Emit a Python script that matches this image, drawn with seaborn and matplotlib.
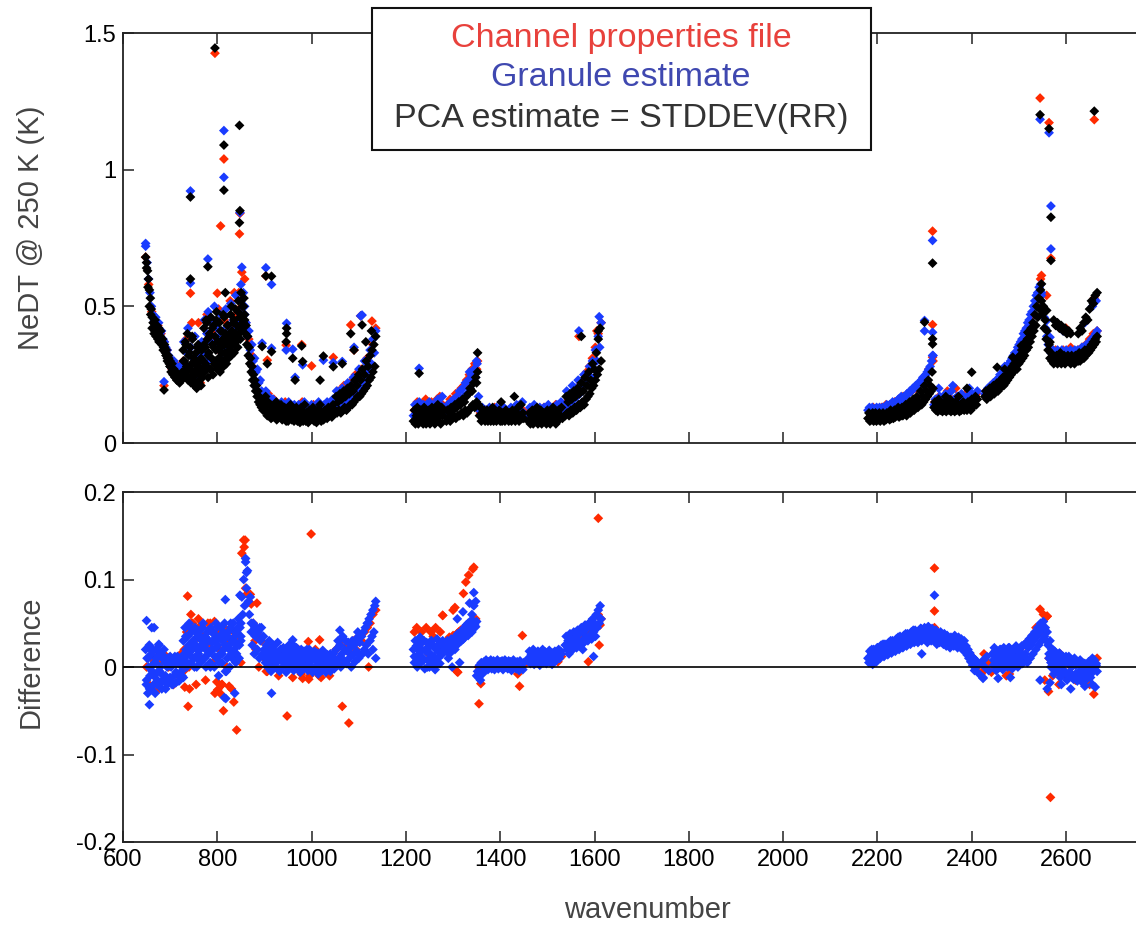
import numpy as np
import pandas as pd
import matplotlib
matplotlib.use("Agg")
import matplotlib.pyplot as plt
import seaborn as sns
from matplotlib.patches import Rectangle

# ------------------------------------------------------------------
# NeDT @ 250 K per channel, grouped in runs of adjacent channels:
# (first wavenumber, last wavenumber, values across the run)
# ------------------------------------------------------------------

# PCA estimate = STDDEV(RR)
pca_lw_a = [0.68, 0.66, 0.63, 0.60, 0.56, 0.53, 0.49, 0.46, 0.44, 0.40, 0.45, 0.39, 0.43, 0.38,
            0.42, 0.39, 0.41, 0.37, 0.38, 0.35, 0.36, 0.33, 0.34, 0.31, 0.32, 0.29, 0.30]
pca_lw_a2 = [0.64, 0.57, 0.50, 0.47, 0.42, 0.44, 0.41, 0.43, 0.40, 0.37, 0.39, 0.36, 0.34,
             0.35, 0.32, 0.30, 0.31, 0.28]
pca_lw_b = [0.28, 0.26, 0.29, 0.25, 0.27, 0.24, 0.26, 0.23, 0.25, 0.24, 0.22, 0.25, 0.23, 0.24]
pca_lw_c = [0.26, 0.34, 0.24, 0.30, 0.37, 0.25, 0.28, 0.40, 0.23, 0.32, 0.27, 0.35, 0.22, 0.29,
            0.38, 0.24, 0.31, 0.21, 0.26, 0.33, 0.20, 0.28, 0.36, 0.22, 0.25, 0.30, 0.21, 0.34,
            0.24, 0.27]
pca_lw_c2 = [0.30, 0.26, 0.36, 0.28, 0.24, 0.33, 0.27, 0.39, 0.25, 0.30, 0.22, 0.35, 0.28,
             0.23, 0.31, 0.26]
pca_lw_d = [0.30, 0.42, 0.26, 0.35, 0.45, 0.28, 0.38, 0.24, 0.33, 0.40, 0.27, 0.46, 0.31, 0.36,
            0.25, 0.43, 0.29, 0.39, 0.34, 0.48, 0.27, 0.37, 0.31, 0.44, 0.26, 0.35, 0.41, 0.30,
            0.38, 0.28, 0.46, 0.33, 0.40, 0.29, 0.36, 0.43, 0.31, 0.38, 0.34, 0.47, 0.32, 0.41,
            0.36, 0.44, 0.33, 0.39, 0.49, 0.37, 0.43, 0.35, 0.52, 0.40, 0.46, 0.38, 0.55, 0.42,
            0.50, 0.44, 0.53, 0.47]
pca_lw_d2 = [0.36, 0.29, 0.44, 0.32, 0.39, 0.27, 0.42, 0.35, 0.30, 0.45, 0.37, 0.28, 0.41,
             0.33, 0.47, 0.36, 0.31, 0.43, 0.39, 0.34, 0.50, 0.37, 0.45, 0.40, 0.35, 0.48,
             0.42, 0.52, 0.45, 0.50]
pca_lw_e = [0.45, 0.40, 0.43, 0.36, 0.39, 0.32, 0.35, 0.29, 0.31, 0.26, 0.28, 0.23, 0.25, 0.21,
            0.23, 0.19, 0.21, 0.17, 0.19, 0.15, 0.17, 0.14, 0.16, 0.13, 0.15, 0.12, 0.14, 0.12]
pca_lw_f = [0.13, 0.17, 0.11, 0.15, 0.10, 0.14, 0.12, 0.095, 0.13, 0.10,
            0.15, 0.09, 0.12, 0.10, 0.14, 0.085, 0.11, 0.13, 0.09, 0.12,
            0.08, 0.11, 0.14, 0.09, 0.12, 0.08, 0.10, 0.13, 0.085, 0.11,
            0.075, 0.12, 0.09, 0.10, 0.14, 0.08, 0.11, 0.075, 0.12, 0.09,
            0.10, 0.13, 0.08, 0.11, 0.075, 0.12, 0.09, 0.14, 0.08, 0.11,
            0.085, 0.12, 0.10, 0.09, 0.13, 0.10, 0.12, 0.095, 0.14, 0.11]
pca_lw_f2 = [0.12, 0.10, 0.14, 0.09, 0.11, 0.13, 0.085, 0.10, 0.12, 0.09, 0.11, 0.08, 0.10,
             0.12, 0.085, 0.09, 0.11, 0.08, 0.10, 0.13, 0.08, 0.09, 0.11, 0.08, 0.10, 0.12,
             0.085, 0.10, 0.09, 0.12, 0.09, 0.11, 0.10, 0.12, 0.10, 0.13, 0.11]
pca_lw_g = [0.12, 0.17, 0.11, 0.15, 0.12, 0.18, 0.11, 0.16, 0.12, 0.19,
            0.13, 0.17, 0.12, 0.20, 0.13, 0.18, 0.14, 0.21, 0.14, 0.19,
            0.15, 0.23, 0.16, 0.21, 0.17, 0.25, 0.17, 0.23, 0.18, 0.27,
            0.19, 0.25, 0.20, 0.30, 0.21, 0.28, 0.23, 0.32, 0.24, 0.34,
            0.26, 0.36, 0.28, 0.39]
pca_mw_a = [0.08, 0.12, 0.07, 0.10, 0.13, 0.07, 0.09, 0.12, 0.08, 0.11, 0.07, 0.13, 0.09, 0.07,
            0.11, 0.08, 0.12, 0.07, 0.10, 0.13, 0.08, 0.11, 0.07, 0.12, 0.09, 0.14, 0.08, 0.11,
            0.07, 0.13, 0.10, 0.12]
pca_mw_b = [0.08, 0.12, 0.09, 0.11, 0.08, 0.13, 0.09, 0.12, 0.10, 0.14,
            0.09, 0.13, 0.10, 0.15, 0.10, 0.14, 0.11, 0.16, 0.10, 0.15,
            0.12, 0.17, 0.11, 0.18, 0.12, 0.20, 0.13, 0.19, 0.14, 0.22,
            0.13, 0.24, 0.15, 0.26, 0.14]
pca_mw_c = [0.10, 0.13, 0.08, 0.11, 0.09, 0.12, 0.08, 0.10, 0.12, 0.08,
            0.09, 0.11, 0.08, 0.10, 0.13, 0.08, 0.09, 0.11, 0.08, 0.10,
            0.09, 0.12, 0.08, 0.10, 0.08, 0.11, 0.09, 0.08, 0.12, 0.09,
            0.10, 0.08, 0.11, 0.09, 0.08, 0.12, 0.09, 0.10, 0.08, 0.11,
            0.09, 0.13, 0.08, 0.10, 0.14, 0.09, 0.11, 0.09]
pca_mw_d = [0.08, 0.11, 0.07, 0.10, 0.12, 0.07, 0.09, 0.11, 0.08, 0.13,
            0.07, 0.10, 0.08, 0.12, 0.07, 0.09, 0.11, 0.08, 0.10, 0.07,
            0.12, 0.08, 0.10, 0.07, 0.11, 0.09, 0.13, 0.08, 0.10, 0.07,
            0.11, 0.08, 0.12, 0.09, 0.10, 0.13, 0.09]
pca_mw_e = [0.10, 0.17, 0.11, 0.15, 0.10, 0.18, 0.12, 0.16, 0.11, 0.19,
            0.13, 0.17, 0.12, 0.20, 0.14, 0.18, 0.13, 0.22, 0.15, 0.19,
            0.14, 0.24, 0.16, 0.21, 0.17, 0.26, 0.18, 0.23, 0.20, 0.29,
            0.21, 0.27, 0.23, 0.33, 0.25, 0.38, 0.27, 0.42, 0.30]
pca_sw_a = [0.09, 0.11, 0.08, 0.10, 0.085, 0.11, 0.08, 0.095, 0.11, 0.08,
            0.10, 0.085, 0.11, 0.08, 0.10, 0.09, 0.11, 0.08, 0.10, 0.085,
            0.11, 0.09, 0.10, 0.085, 0.12, 0.09, 0.10, 0.09, 0.12, 0.095,
            0.11, 0.10, 0.13, 0.095, 0.12, 0.10, 0.13, 0.10, 0.12, 0.11,
            0.14, 0.10, 0.13, 0.11, 0.15, 0.11, 0.13, 0.12, 0.16, 0.12,
            0.14, 0.13, 0.17, 0.13, 0.15, 0.14, 0.19, 0.14, 0.17, 0.15,
            0.21, 0.16, 0.19, 0.17, 0.23, 0.18, 0.21, 0.19, 0.26, 0.20]
pca_sw_b = [0.13, 0.15, 0.12, 0.14, 0.115, 0.13, 0.15, 0.12, 0.14, 0.115,
            0.13, 0.12, 0.15, 0.115, 0.13, 0.14, 0.12, 0.16, 0.115, 0.13,
            0.12, 0.14, 0.115, 0.15, 0.12, 0.13, 0.17, 0.115, 0.14, 0.12,
            0.13, 0.15, 0.12, 0.14, 0.13, 0.12, 0.15, 0.13, 0.14, 0.12,
            0.16, 0.13, 0.15, 0.14, 0.17, 0.14, 0.16]
pca_sw_c = [0.17, 0.19, 0.16, 0.18, 0.17, 0.20, 0.17, 0.19, 0.18, 0.21,
            0.18, 0.20, 0.19, 0.22, 0.19, 0.21, 0.20, 0.23, 0.21, 0.24,
            0.21, 0.23, 0.22, 0.25, 0.23, 0.26, 0.24, 0.27, 0.25, 0.28,
            0.26, 0.29, 0.27, 0.30, 0.27, 0.31, 0.29, 0.32, 0.30, 0.34,
            0.31, 0.35, 0.32, 0.37, 0.34, 0.38, 0.35, 0.40, 0.37, 0.42,
            0.39, 0.44, 0.41, 0.47, 0.43, 0.50, 0.46, 0.53, 0.49, 0.56]
pca_sw_d = [0.52, 0.47, 0.50, 0.42, 0.45, 0.38, 0.41, 0.34, 0.36, 0.31, 0.33]
pca_sw_e = [0.30, 0.32, 0.29, 0.31, 0.30, 0.32, 0.29, 0.31, 0.30, 0.33,
            0.29, 0.31, 0.30, 0.32, 0.29, 0.31, 0.30, 0.32, 0.30, 0.31,
            0.29, 0.32, 0.30, 0.31, 0.29, 0.32, 0.30, 0.31, 0.30, 0.33,
            0.30, 0.32, 0.31, 0.33, 0.31, 0.34, 0.32, 0.33, 0.34]
pca_sw_f = [0.33, 0.35, 0.34, 0.36, 0.35, 0.37, 0.36, 0.38, 0.37, 0.39]
pca_sw_g = [0.45, 0.43, 0.44, 0.42, 0.43, 0.41, 0.42, 0.40, 0.41, 0.40]
pca_sw_h = [0.40, 0.42, 0.41, 0.44, 0.46, 0.45, 0.49, 0.52, 0.51, 0.54, 0.55]
pca_single = [(687, 0.194), (743, 0.90), (743, 0.60), (780, 0.645), (795, 1.445), (814, 1.09),
              (814, 0.925), (817, 0.55), (847, 1.162), (848, 0.85), (847, 0.806), (895, 0.353),
              (903, 0.611), (906, 0.29), (915, 0.61), (915, 0.334), (946, 0.37), (947, 0.42),
              (947, 0.40), (960, 0.31), (965, 0.23), (979, 0.355), (981, 0.298), (1018, 0.23),
              (1025, 0.318), (1046, 0.279), (1065, 0.29), (1083, 0.40), (1090, 0.34),
              (1107, 0.432), (1115, 0.37), (1127, 0.41), (1228, 0.255), (1340, 0.19),
              (1350, 0.22), (1352, 0.33), (1402, 0.15), (1430, 0.17), (1572, 0.39),
              (1608, 0.41), (2300, 0.442), (2317, 0.658), (2317, 0.381), (2317, 0.362),
              (2330, 0.16), (2345, 0.17), (2390, 0.20), (2400, 0.259), (2454, 0.277),
              (2470, 0.27), (2487, 0.314), (2505, 0.356), (2519, 0.405), (2545, 1.201),
              (2548, 0.582), (2559, 0.485), (2564, 1.15), (2566, 0.369), (2568, 0.826),
              (2568, 0.668), (2660, 1.214)]
pca_runs = [(648, 700, pca_lw_a), (650, 700, pca_lw_a2), (700, 726, pca_lw_b),
            (726, 770, pca_lw_c), (728, 768, pca_lw_c2), (770, 858, pca_lw_d),
            (772, 856, pca_lw_d2), (858, 900, pca_lw_e), (900, 1048, pca_lw_f),
            (902, 1046, pca_lw_f2), (1050, 1136, pca_lw_g), (1216, 1280, pca_mw_a),
            (1286, 1354, pca_mw_b), (1356, 1450, pca_mw_c), (1460, 1532, pca_mw_d),
            (1538, 1614, pca_mw_e), (2180, 2318, pca_sw_a), (2320, 2412, pca_sw_b),
            (2428, 2546, pca_sw_c), (2548, 2568, pca_sw_d), (2570, 2646, pca_sw_e),
            (2648, 2666, pca_sw_f), (2574, 2610, pca_sw_g), (2626, 2666, pca_sw_h)]

# Granule estimate
gran_lw_a = [0.72, 0.66, 0.60, 0.55, 0.50, 0.47, 0.45, 0.46, 0.42, 0.44, 0.40, 0.41, 0.38,
             0.37, 0.35, 0.34, 0.32, 0.31]
gran_lw_b = [0.29, 0.27, 0.30, 0.26, 0.28, 0.25, 0.27, 0.26, 0.25]
gran_lw_c = [0.29, 0.37, 0.26, 0.33, 0.42, 0.28, 0.35, 0.24, 0.31, 0.39, 0.26, 0.33, 0.23,
             0.30, 0.37, 0.27]
gran_lw_d = [0.33, 0.45, 0.29, 0.40, 0.48, 0.31, 0.37, 0.44, 0.30, 0.50, 0.35, 0.42, 0.29,
             0.39, 0.47, 0.33, 0.41, 0.36, 0.49, 0.34, 0.43, 0.38, 0.51, 0.36, 0.45, 0.40,
             0.54, 0.42, 0.48, 0.44, 0.58, 0.46, 0.55, 0.50]
gran_lw_e = [0.47, 0.44, 0.39, 0.41, 0.34, 0.36, 0.30, 0.31, 0.26, 0.27, 0.22, 0.23, 0.19,
             0.18, 0.16]
gran_lw_f = [0.16, 0.19, 0.14, 0.17, 0.15, 0.13, 0.16, 0.12, 0.15, 0.13, 0.14, 0.11, 0.15,
             0.12, 0.14, 0.11, 0.13, 0.15, 0.11, 0.13, 0.10, 0.14, 0.12, 0.11, 0.14, 0.10,
             0.13, 0.11, 0.15, 0.10, 0.13, 0.12, 0.10, 0.14, 0.11, 0.13, 0.10, 0.12, 0.15,
             0.11, 0.13, 0.12, 0.14, 0.11, 0.15, 0.12, 0.14, 0.13, 0.16, 0.13]
gran_lw_g = [0.14, 0.19, 0.13, 0.18, 0.14, 0.20, 0.15, 0.19, 0.16, 0.22, 0.16, 0.21, 0.18,
             0.24, 0.19, 0.23, 0.20, 0.27, 0.21, 0.26, 0.23, 0.30, 0.25, 0.29, 0.27, 0.34,
             0.29, 0.38, 0.33, 0.41]
gran_mw_a = [0.10, 0.14, 0.09, 0.13, 0.15, 0.10, 0.12, 0.14, 0.09, 0.13, 0.11, 0.15, 0.10,
             0.12, 0.14, 0.10, 0.13, 0.16, 0.11, 0.14, 0.17, 0.12]
gran_mw_b = [0.11, 0.14, 0.12, 0.15, 0.13, 0.16, 0.14, 0.17, 0.15, 0.19, 0.16, 0.20, 0.17,
             0.22, 0.18, 0.23, 0.20, 0.25, 0.22, 0.27, 0.24, 0.29, 0.17]
gran_mw_c = [0.12, 0.10, 0.13, 0.10, 0.12, 0.11, 0.10, 0.13, 0.10, 0.12, 0.11, 0.10, 0.13,
             0.10, 0.12, 0.10, 0.11, 0.13, 0.10, 0.12, 0.10, 0.11, 0.13, 0.10, 0.12, 0.11,
             0.14, 0.10, 0.12, 0.11, 0.15, 0.11]
gran_mw_d = [0.10, 0.13, 0.09, 0.12, 0.14, 0.10, 0.12, 0.09, 0.13, 0.11, 0.10, 0.13, 0.09,
             0.12, 0.14, 0.10, 0.12, 0.09, 0.13, 0.11, 0.14, 0.10, 0.12, 0.15, 0.11]
gran_mw_e = [0.13, 0.19, 0.14, 0.18, 0.15, 0.21, 0.16, 0.20, 0.17, 0.23, 0.18, 0.22, 0.19,
             0.25, 0.21, 0.24, 0.22, 0.28, 0.24, 0.30, 0.27, 0.34, 0.30, 0.39, 0.35, 0.44]
gran_sw_a = [0.12, 0.13, 0.12, 0.13, 0.12, 0.125, 0.13, 0.12, 0.13, 0.12, 0.13, 0.125, 0.13,
             0.14, 0.13, 0.14, 0.135, 0.15, 0.14, 0.15, 0.15, 0.16, 0.15, 0.17, 0.16, 0.17,
             0.17, 0.18, 0.18, 0.19, 0.19, 0.20, 0.20, 0.21, 0.21, 0.22, 0.22, 0.23, 0.24,
             0.23, 0.25, 0.26, 0.27, 0.28, 0.30, 0.32]
gran_sw_b = [0.14, 0.16, 0.13, 0.15, 0.17, 0.14, 0.16, 0.15, 0.18, 0.14, 0.16, 0.15, 0.19,
             0.14, 0.16, 0.15, 0.17, 0.14, 0.16, 0.18, 0.15, 0.16, 0.14, 0.17, 0.15, 0.16,
             0.18, 0.15, 0.17, 0.16, 0.19]
gran_sw_c = [0.18, 0.19, 0.20, 0.19, 0.21, 0.20, 0.22, 0.21, 0.23, 0.23, 0.24, 0.25, 0.25,
             0.26, 0.27, 0.28, 0.28, 0.29, 0.30, 0.31, 0.32, 0.33, 0.33, 0.35, 0.36, 0.37,
             0.38, 0.40, 0.41, 0.42, 0.44, 0.45, 0.47, 0.48, 0.50, 0.52, 0.54, 0.55, 0.57, 0.58]
gran_sw_d = [0.54, 0.50, 0.46, 0.42, 0.39, 0.36, 0.34, 0.33]
gran_sw_e = [0.33, 0.34, 0.32, 0.33, 0.34, 0.32, 0.33, 0.34, 0.33, 0.32, 0.34, 0.33, 0.32,
             0.34, 0.33, 0.32, 0.34, 0.33, 0.34, 0.32, 0.33, 0.35, 0.34, 0.35, 0.36, 0.35]
gran_sw_f = [0.36, 0.37, 0.38, 0.37, 0.39, 0.40, 0.41]
gran_single = [(648, 0.73), (687, 0.224), (743, 0.922), (743, 0.585), (780, 0.673),
               (814, 1.143), (814, 0.972), (848, 0.843), (852, 0.643), (895, 0.365),
               (903, 0.641), (915, 0.58), (915, 0.347), (946, 0.34), (947, 0.438),
               (960, 0.343), (965, 0.24), (981, 0.286), (1025, 0.303), (1046, 0.294),
               (1065, 0.298), (1090, 0.35), (1104, 0.465), (1107, 0.468), (1228, 0.273),
               (1335, 0.26), (1350, 0.30), (1567, 0.41), (1610, 0.462), (2300, 0.448),
               (2300, 0.41), (2317, 0.741), (2317, 0.405), (2317, 0.32), (2330, 0.20),
               (2360, 0.21), (2395, 0.20), (2460, 0.25), (2470, 0.28), (2500, 0.33),
               (2545, 1.184), (2548, 0.55), (2559, 0.448), (2564, 1.135), (2566, 0.387),
               (2568, 0.867), (2568, 0.71), (2582, 0.43), (2594, 0.41), (2640, 0.44),
               (2656, 0.50), (2664, 0.52)]
gran_runs = [(648, 700, gran_lw_a), (702, 726, gran_lw_b), (726, 770, gran_lw_c),
             (770, 858, gran_lw_d), (858, 900, gran_lw_e), (900, 1048, gran_lw_f),
             (1050, 1136, gran_lw_g), (1216, 1280, gran_mw_a), (1286, 1354, gran_mw_b),
             (1356, 1450, gran_mw_c), (1460, 1532, gran_mw_d), (1538, 1614, gran_mw_e),
             (2180, 2318, gran_sw_a), (2320, 2412, gran_sw_b), (2428, 2546, gran_sw_c),
             (2548, 2568, gran_sw_d), (2570, 2646, gran_sw_e), (2648, 2666, gran_sw_f)]

# Channel properties file
chan_lw_a = [0.68, 0.58, 0.48, 0.45, 0.43, 0.40, 0.37, 0.34, 0.31]
chan_lw_b = [0.27, 0.29, 0.25, 0.26]
chan_lw_c = [0.30, 0.38, 0.27, 0.44, 0.25, 0.33, 0.22, 0.36]
chan_lw_d = [0.35, 0.47, 0.31, 0.41, 0.38, 0.49, 0.33, 0.45, 0.37, 0.52, 0.42, 0.47, 0.55,
             0.50, 0.60]
chan_lw_e = [0.44, 0.38, 0.32, 0.27, 0.22, 0.18, 0.16]
chan_lw_f = [0.15, 0.18, 0.13, 0.16, 0.12, 0.14, 0.11, 0.15, 0.12, 0.14, 0.10, 0.13, 0.12,
             0.15, 0.11, 0.13, 0.10, 0.14, 0.12, 0.13, 0.11, 0.14, 0.12, 0.15, 0.13]
chan_lw_g = [0.15, 0.19, 0.16, 0.21, 0.17, 0.22, 0.19, 0.25, 0.21, 0.27, 0.24, 0.31, 0.28,
             0.36, 0.42]
chan_mw_a = [0.12, 0.15, 0.11, 0.14, 0.16, 0.12, 0.15, 0.13, 0.16, 0.17, 0.14]
chan_mw_b = [0.14, 0.16, 0.15, 0.18, 0.17, 0.20, 0.21, 0.23, 0.25, 0.27, 0.29, 0.30]
chan_mw_c = [0.11, 0.10, 0.12, 0.10, 0.11, 0.13, 0.10, 0.12, 0.11, 0.10, 0.12, 0.11, 0.13,
             0.10, 0.14, 0.12]
chan_mw_d = [0.11, 0.13, 0.10, 0.12, 0.11, 0.13, 0.10, 0.12, 0.11, 0.14, 0.12, 0.13]
chan_mw_e = [0.15, 0.17, 0.16, 0.19, 0.20, 0.22, 0.23, 0.26, 0.28, 0.31, 0.35, 0.40, 0.44]
chan_sw_a = [0.12, 0.13, 0.12, 0.13, 0.14, 0.13, 0.15, 0.16, 0.17, 0.18, 0.19, 0.20, 0.22,
             0.24, 0.27, 0.30]
chan_sw_b = [0.15, 0.17, 0.14, 0.19, 0.16, 0.20, 0.15, 0.17, 0.19, 0.16, 0.18]
chan_sw_c = [0.19, 0.20, 0.22, 0.23, 0.25, 0.27, 0.29, 0.31, 0.33, 0.36, 0.39, 0.43, 0.47,
             0.52, 0.60]
chan_sw_d = [0.33, 0.34, 0.32, 0.34, 0.33, 0.35, 0.33, 0.34, 0.35, 0.36, 0.38, 0.40, 0.41]
chan_single = [(687, 0.21), (743, 0.548), (760, 0.44), (795, 1.426), (800, 0.548),
               (807, 0.794), (814, 1.039), (836, 0.55), (847, 0.765), (848, 0.84),
               (852, 0.625), (903, 0.611), (906, 0.303), (946, 0.358), (979, 0.36),
               (1000, 0.282), (1046, 0.313), (1083, 0.432), (1090, 0.34), (1104, 0.465),
               (1128, 0.446), (1350, 0.27), (1567, 0.39), (1605, 0.41), (2317, 0.775),
               (2317, 0.433), (2317, 0.314), (2440, 0.19), (2500, 0.30), (2545, 1.262),
               (2548, 0.613), (2559, 0.54), (2564, 1.172), (2568, 0.676), (2600, 0.42),
               (2660, 1.183), (2660, 0.53)]
chan_runs = [(648, 700, chan_lw_a), (704, 726, chan_lw_b), (728, 770, chan_lw_c),
             (772, 858, chan_lw_d), (860, 900, chan_lw_e), (902, 1046, chan_lw_f),
             (1050, 1136, chan_lw_g), (1218, 1278, chan_mw_a), (1288, 1352, chan_mw_b),
             (1358, 1448, chan_mw_c), (1462, 1530, chan_mw_d), (1540, 1614, chan_mw_e),
             (2182, 2318, chan_sw_a), (2322, 2410, chan_sw_b), (2430, 2546, chan_sw_c),
             (2570, 2666, chan_sw_d)]

# ------------------------------------------------------------------
# Difference from the PCA estimate
# ------------------------------------------------------------------
dgran_lw_a = [0.02, -0.02, 0.01, -0.03, 0.00, 0.025, -0.01, -0.025, 0.015, -0.005, 0.02,
              -0.02, 0.005, -0.03, 0.01, 0.02, -0.015, -0.005, 0.025, -0.02, 0.00, 0.015,
              -0.025, 0.01, -0.01, 0.02, -0.015, 0.005]
dgran_lw_a2 = [-0.015, 0.01, -0.025, 0.0, 0.018, -0.01, 0.005, -0.02, 0.012, -0.005, 0.015,
               -0.015, 0.008, -0.025, 0.0, 0.01, -0.012, 0.004, -0.02, 0.008, -0.006, 0.012,
               -0.016, 0.002, -0.01, 0.006]
dgran_lw_b = [-0.01, 0.01, -0.02, 0.005, -0.015, 0.012, 0.0, -0.02, 0.008, -0.01, 0.012,
              -0.018, 0.004, -0.008, 0.01, -0.015, 0.006, -0.005, 0.012, -0.012]
dgran_lw_c = [0.03, 0.01, 0.045, 0.02, 0.0, 0.035, 0.015, 0.05, 0.025, 0.005, 0.04, 0.02,
              0.03, 0.01, 0.045, 0.025, 0.0, 0.035, 0.015, 0.04, 0.02, 0.005, 0.03, 0.045,
              0.01, 0.025, 0.035, 0.0, 0.02, 0.04, 0.015, 0.03, 0.005, 0.045, 0.02, 0.03]
dgran_lw_c2 = [0.015, 0.035, 0.005, 0.025, 0.045, 0.012, 0.03, 0.0, 0.04, 0.02, 0.008, 0.035,
               0.025, 0.05, 0.01, 0.03, 0.018, 0.042, 0.0, 0.028, 0.038, 0.012, 0.022, 0.046,
               0.005, 0.032, 0.015, 0.04, 0.025, -0.005, 0.035, 0.02, 0.05, 0.01, 0.03, 0.04,
               0.015, 0.045, 0.025, 0.035]
dgran_lw_d = [0.02, 0.04, 0.0, 0.03, 0.05, 0.01, 0.025, -0.01, 0.035, 0.015, 0.045, 0.005,
              0.03, 0.02, 0.05, -0.005, 0.035, 0.01, 0.04, 0.025, 0.0, 0.045, 0.015, 0.03,
              0.05, 0.02, 0.035, 0.005, 0.04, 0.025, 0.055, 0.01, 0.045, 0.03]
dgran_lw_e = [0.05, 0.08, 0.06, 0.10, 0.07, 0.12, 0.09, 0.11, 0.075, 0.06, 0.08, 0.05]
dgran_lw_f = [0.04, 0.025, 0.05, 0.015, 0.035, 0.045, 0.02, 0.04, 0.01, 0.03, 0.045, 0.015,
              0.035, 0.02]
dgran_lw_g = [0.02, 0.005, 0.025, 0.0, 0.015, 0.03, 0.008, -0.005, 0.02, 0.01,
              0.025, 0.0, 0.015, 0.005, 0.028, 0.01, -0.005, 0.02, 0.012, 0.0,
              0.022, 0.008, 0.015, -0.006, 0.018, 0.005, 0.025, 0.01, 0.0, 0.02,
              0.012, -0.004, 0.016, 0.006, 0.022, 0.0, 0.014, 0.008, -0.006, 0.02,
              0.01, 0.003, 0.018, 0.0, 0.012, 0.02, -0.004, 0.008, 0.016, 0.002,
              0.014, -0.006, 0.01, 0.018, 0.0, 0.012, 0.006, -0.008, 0.015, 0.004,
              0.01, -0.004, 0.016, 0.002, 0.012, -0.006, 0.008, 0.014, 0.0, 0.01,
              -0.005, 0.012, 0.004, 0.015, -0.002, 0.008]
dgran_lw_g2 = [0.01, 0.018, 0.002, 0.012, 0.022, 0.006, 0.015, -0.003, 0.01, 0.02, 0.004,
               0.013, 0.0, 0.017, 0.008, 0.024, 0.003, 0.011, 0.018, -0.004, 0.009, 0.015,
               0.002, 0.02, 0.007, 0.012, -0.002, 0.016, 0.005, 0.01, 0.019, 0.0, 0.012,
               0.006, 0.015, 0.002, 0.01]
dgran_lw_h = [0.02, 0.005, 0.03, 0.01, 0.025, 0.0, 0.015, 0.035, 0.008, 0.02, 0.03, 0.004,
              0.018, 0.028, 0.01, 0.022, 0.0, 0.03, 0.014, 0.025, 0.006, 0.032, 0.018, 0.04,
              0.01, 0.028, 0.035]
dgran_lw_i = [0.035, 0.015, 0.04, 0.02, 0.045, 0.025, 0.05, 0.015, 0.055, 0.03, 0.06, 0.035,
              0.065, 0.04, 0.07, 0.075]
dgran_mw_a = [0.02, 0.005, 0.03, 0.01, 0.0, 0.025, 0.015, 0.034, 0.005, 0.02, 0.01, 0.03,
              -0.002, 0.018, 0.028, 0.008, 0.022, 0.0, 0.015, 0.03, 0.006, 0.025, 0.012,
              -0.003, 0.02, 0.032, 0.01, 0.018, 0.004, 0.026, 0.014, 0.03, 0.02]
dgran_mw_a2 = [0.012, 0.024, 0.004, 0.018, 0.028, 0.008, 0.02, 0.0, 0.015, 0.03, 0.01, 0.022,
               0.004, 0.026, 0.016, 0.024]
dgran_mw_b = [0.02, 0.03, 0.01, 0.025, 0.018, 0.032, 0.0, 0.022, 0.03, 0.02, 0.035, 0.025,
              0.038, 0.028, 0.005, 0.04, 0.03, 0.042, 0.032, 0.045, 0.035, 0.048, 0.038,
              0.05, 0.04, 0.052, 0.042, 0.06, 0.045, 0.07, 0.048, 0.075, 0.052]
dgran_mw_b2 = [0.024, 0.015, 0.03, 0.02, 0.034, 0.026, 0.038, 0.03, 0.04, 0.034, 0.044,
               0.036, 0.048, 0.04, 0.052, 0.046]
dgran_mw_c = [-0.005, -0.012, 0.002, -0.015, 0.005, -0.008, 0.0, 0.006, -0.004, 0.008,
              0.002, -0.003, 0.006, 0.0, 0.008, -0.002, 0.004, 0.007, -0.003, 0.005,
              0.001, 0.008, -0.002, 0.004, 0.006, 0.0, 0.007, -0.003, 0.004, 0.008,
              0.0, 0.005, -0.002, 0.007, 0.002, 0.006, -0.004, 0.003, 0.008, 0.0,
              0.005, -0.002, 0.006, 0.002, -0.004, 0.007, 0.0, 0.004, -0.003, 0.005]
dgran_mw_d = [0.01, 0.018, 0.004, 0.014, 0.008, 0.02, 0.003, 0.012, 0.016, 0.006, 0.018,
              0.01, 0.002, 0.015, 0.008, 0.02, 0.005, 0.012, 0.017, 0.004, 0.014, 0.009,
              0.019, 0.006, 0.013, 0.003, 0.016, 0.01, 0.018, 0.007, 0.015, 0.012, 0.02,
              0.01, 0.018, 0.015]
dgran_mw_e = [0.025, 0.035, 0.02, 0.03, 0.015, 0.038, 0.025, 0.032, 0.02, 0.04, 0.028,
              0.035, 0.022, 0.042, 0.03, 0.038, 0.025, 0.045, 0.03, 0.04, 0.028, 0.048,
              0.034, 0.044, 0.03, 0.05, 0.036, 0.046, 0.032, 0.055, 0.04, 0.05, 0.035,
              0.06, 0.045, 0.065, 0.05, 0.07, 0.055]
dgran_sw_a = [0.01, 0.005, 0.018, 0.008, 0.015, 0.003, 0.02, 0.01, 0.016, 0.006,
              0.022, 0.012, 0.018, 0.01, 0.025, 0.014, 0.02, 0.012, 0.026, 0.016,
              0.022, 0.014, 0.028, 0.018, 0.024, 0.016, 0.03, 0.02, 0.026, 0.018,
              0.032, 0.022, 0.028, 0.02, 0.035, 0.024, 0.03, 0.022, 0.036, 0.026,
              0.032, 0.024, 0.038, 0.028, 0.034, 0.026, 0.04, 0.03, 0.036, 0.028,
              0.042, 0.03, 0.038, 0.028, 0.04, 0.032, 0.044, 0.03, 0.038, 0.034,
              0.045, 0.032, 0.04, 0.028, 0.046, 0.035, 0.042, 0.03, 0.044, 0.036]
dgran_sw_a2 = [0.012, 0.02, 0.008, 0.016, 0.022, 0.012, 0.02, 0.026, 0.016, 0.024, 0.02,
               0.03, 0.022, 0.028, 0.024, 0.034, 0.026, 0.032, 0.03, 0.038, 0.028, 0.036,
               0.034, 0.042, 0.032, 0.038, 0.036, 0.044, 0.034, 0.04, 0.038, 0.046, 0.036,
               0.042]
dgran_sw_b = [0.038, 0.03, 0.042, 0.026, 0.036, 0.032, 0.028, 0.04, 0.03, 0.034,
              0.026, 0.038, 0.03, 0.024, 0.036, 0.028, 0.032, 0.022, 0.034, 0.028,
              0.03, 0.024, 0.036, 0.026, 0.03, 0.022, 0.034, 0.028, 0.024, 0.032,
              0.02, 0.026, 0.03, 0.018, 0.024, 0.014, 0.02, 0.01, 0.016, 0.006,
              0.012, 0.002, 0.01, -0.004, 0.008, 0.0]
dgran_sw_c = [0.005, -0.008, 0.004, -0.012, 0.0, 0.012, -0.004]
dgran_sw_d = [0.015, 0.002, 0.022, 0.008, -0.004, 0.018, 0.01, 0.0, 0.02, 0.006,
              0.014, -0.003, 0.022, 0.01, 0.004, 0.018, 0.0, 0.012, 0.022, 0.006,
              0.016, -0.002, 0.02, 0.01, 0.004, 0.024, 0.012, 0.0, 0.018, 0.008,
              0.022, 0.014, 0.004, 0.025, 0.012]
dgran_sw_d2 = [0.008, 0.018, 0.0, 0.012, 0.02, 0.004, 0.016, 0.01, 0.022, 0.002, 0.014, 0.02,
               0.006, 0.018, 0.01, 0.024, 0.014]
dgran_sw_e = [0.015, 0.028, 0.005, 0.022, 0.032, 0.01, 0.025, 0.036, 0.015, 0.03, 0.04,
              0.02, 0.035, 0.045, 0.025, 0.04, 0.05, 0.03, 0.045, 0.052, 0.035, 0.045,
              0.03, 0.04]
dgran_sw_f = [0.025, 0.01, 0.03, 0.0, 0.02, 0.012, -0.008, 0.018, 0.005, 0.015,
              -0.005, 0.01, 0.016, -0.012, 0.008, 0.002, 0.012, -0.004, 0.006, 0.01,
              -0.015, 0.004, 0.012, -0.006, 0.008, 0.0, -0.012, 0.006, 0.01, -0.008,
              0.002, -0.016, 0.004, -0.006, 0.008, -0.012, 0.0, -0.018, 0.004, -0.008,
              0.002, -0.014, -0.004, 0.006, -0.01, 0.0, -0.006, 0.01, -0.002, 0.008,
              0.0, 0.004, -0.005]
dgran_sw_f2 = [0.015, 0.005, 0.02, -0.004, 0.01, 0.0, 0.014, -0.008, 0.006, 0.012, -0.01,
               0.004, 0.008, -0.014, 0.002, 0.006, -0.006, -0.016, 0.0, 0.004, -0.01, 0.002,
               -0.012, 0.006, -0.004, 0.002]
dgran_single = [(650, 0.053), (656, -0.043), (661, 0.045), (666, 0.045), (676, 0.026),
                (815, -0.035), (817, 0.077), (818, -0.036), (837, -0.03), (848, 0.082),
                (860, 0.124), (862, 0.108), (880, 0.045), (890, 0.045), (915, -0.03),
                (960, 0.031), (1060, 0.042), (1120, 0.05), (1130, 0.02), (1136, 0.01),
                (1226, 0.003), (1260, 0.0), (1309, 0.055), (1321, 0.063), (1335, 0.073),
                (1344, 0.085), (1350, -0.01), (1560, 0.038), (1575, 0.02), (1598, 0.012),
                (2294, 0.015), (2321, 0.082), (2424, -0.013), (2425, 0.008), (2456, -0.013),
                (2482, -0.012), (2536, 0.04), (2545, -0.015), (2560, -0.025), (2566, -0.018),
                (2590, -0.02), (2610, -0.025), (2640, -0.022), (2656, -0.02), (2662, -0.023)]
dgran_runs = [(648, 690, dgran_lw_a), (650, 728, dgran_lw_a2), (690, 728, dgran_lw_b),
              (728, 790, dgran_lw_c), (730, 850, dgran_lw_c2), (790, 850, dgran_lw_d),
              (850, 872, dgran_lw_e), (872, 900, dgran_lw_f), (900, 1050, dgran_lw_g),
              (902, 1048, dgran_lw_g2), (1052, 1104, dgran_lw_h), (1106, 1136, dgran_lw_i),
              (1216, 1280, dgran_mw_a), (1218, 1278, dgran_mw_a2), (1286, 1350, dgran_mw_b),
              (1288, 1348, dgran_mw_b2), (1352, 1450, dgran_mw_c), (1460, 1530, dgran_mw_d),
              (1538, 1614, dgran_mw_e), (2180, 2318, dgran_sw_a), (2184, 2316, dgran_sw_a2),
              (2320, 2410, dgran_sw_b), (2412, 2436, dgran_sw_c), (2444, 2512, dgran_sw_d),
              (2446, 2510, dgran_sw_d2), (2514, 2560, dgran_sw_e), (2562, 2666, dgran_sw_f),
              (2564, 2664, dgran_sw_f2)]

dchan_lw_a = [0.0, -0.02, 0.01, -0.01, 0.02, -0.025, 0.005, 0.015, -0.015, 0.0, 0.01, -0.02,
              0.005, -0.01, 0.015, -0.005]
dchan_lw_b = [0.02, 0.04, 0.0, 0.05, 0.03, -0.02, 0.045, 0.01, 0.035, -0.015, 0.025, 0.05,
              0.005, -0.03, 0.04, 0.02, -0.02, 0.045, 0.0, 0.03, -0.025, 0.04, 0.01, 0.035,
              0.005]
dchan_lw_c = [0.13, 0.145, 0.09, 0.084, 0.074, 0.072, 0.05, 0.03]
dchan_lw_d = [0.02, 0.0, 0.03, 0.01, -0.005, 0.02, 0.005, 0.015, -0.01, 0.02, 0.01, 0.0,
              0.025, -0.012, 0.01, 0.02, -0.008, 0.005, 0.015, -0.01, 0.01, 0.02, 0.0,
              -0.012, 0.015, 0.005, -0.01, 0.01, 0.0]
dchan_lw_e = [0.02, 0.01, 0.03, 0.005, 0.025, 0.015, 0.03, 0.02, 0.035, 0.03, 0.04, 0.045,
              0.05, 0.06, 0.065]
dchan_mw_a = [0.04, 0.045, 0.02, 0.04, 0.03, 0.045, 0.015, 0.04, 0.035, 0.045, 0.02, 0.04,
              0.059]
dchan_mw_b = [0.03, 0.034, 0.032, 0.036, 0.035, 0.038, 0.04, 0.042, 0.043, 0.045, 0.046,
              0.048, 0.05, 0.052, 0.053, 0.055]
dchan_mw_c = [0.0, -0.005, 0.002, 0.004, 0.0, 0.003, 0.005, 0.001, 0.004, 0.002, 0.005, 0.0,
              0.003, -0.008, 0.004, 0.002]
dchan_mw_d = [0.01, 0.006, 0.012, 0.004, 0.015, 0.008, 0.01, 0.014, 0.006, 0.012]
dchan_mw_e = [0.025, 0.03, 0.022, 0.035, 0.03, 0.038, 0.033, 0.04, 0.045, 0.05, 0.048,
              0.06, 0.055]
dchan_sw_a = [0.01, 0.015, 0.02, 0.018, 0.025, 0.022, 0.028, 0.03, 0.032, 0.03, 0.035,
              0.038, 0.04, 0.042]
dchan_sw_b = [0.035, 0.03, 0.032, 0.028, 0.03, 0.026, 0.025, 0.022, 0.02, 0.015, 0.01, 0.0]
dchan_sw_c = [0.015, 0.005, -0.006, 0.018, 0.0, 0.012, -0.01, 0.02, 0.005, 0.015, 0.022,
              0.01, 0.028, 0.035, 0.045, 0.048, 0.06, 0.058]
dchan_sw_d = [0.01, -0.01, 0.005, 0.015, -0.005, 0.008, 0.0, 0.006, -0.01, 0.005, 0.0,
              -0.02, 0.006, 0.01]
dchan_single = [(731, -0.023), (737, 0.081), (738, -0.045), (741, -0.025), (744, 0.06),
                (748, 0.05), (760, 0.055), (780, 0.05), (794, 0.052), (799, -0.017),
                (801, -0.026), (806, -0.03), (810, -0.02), (813, -0.05), (825, -0.022),
                (835, -0.04), (841, -0.072), (857, 0.137), (859, 0.145), (870, 0.083),
                (884, 0.073), (890, 0.035), (904, -0.005), (948, -0.056), (981, -0.013),
                (993, 0.029), (994, -0.014), (999, 0.152), (1016, -0.01), (1017, 0.031),
                (1065, -0.045), (1079, -0.064), (1121, 0.0), (1278, 0.059), (1300, 0.065),
                (1304, 0.068), (1308, -0.005), (1310, -0.006), (1322, 0.084), (1327, 0.097),
                (1333, 0.105), (1342, 0.112), (1344, 0.114), (1355, -0.042), (1359, -0.019),
                (1441, -0.022), (1447, 0.036), (1587, 0.006), (1608, 0.17), (1610, 0.025),
                (1612, 0.048), (2321, 0.113), (2321, 0.064), (2321, 0.045), (2420, -0.008),
                (2424, -0.005), (2480, -0.008), (2520, 0.03), (2545, 0.066), (2548, 0.04),
                (2555, -0.015), (2560, 0.058), (2563, -0.028), (2567, -0.149), (2585, -0.02),
                (2600, -0.01), (2620, -0.015), (2640, -0.012), (2659, -0.031)]
dchan_runs = [(650, 728, dchan_lw_a), (730, 850, dchan_lw_b), (852, 880, dchan_lw_c),
              (882, 1050, dchan_lw_d), (1052, 1136, dchan_lw_e), (1218, 1278, dchan_mw_a),
              (1288, 1348, dchan_mw_b), (1354, 1450, dchan_mw_c), (1462, 1530, dchan_mw_d),
              (1540, 1614, dchan_mw_e), (2182, 2318, dchan_sw_a), (2322, 2412, dchan_sw_b),
              (2426, 2560, dchan_sw_c), (2564, 2666, dchan_sw_d)]

legend_lines = ["Channel properties file", "Granule estimate", "PCA estimate = STDDEV(RR)"]
xtick_values = [600, 800, 1000, 1200, 1400, 1600, 1800, 2000, 2200, 2400, 2600]
top_yticks = [0, 0.5, 1, 1.5]
top_ylabels = ["0", "0.5", "1", "1.5"]
bot_yticks = [-0.2, -0.1, 0, 0.1, 0.2]
bot_ylabels = ["-0.2", "-0.1", "0", "0.1", "0.2"]

RED = "#ff2a00"
BLUE = "#1a3cff"
BLACK = "#000000"


def to_frame(runs, singles, source):
    xs, ys = [], []
    for first, last, vals in runs:
        xs.append(np.linspace(first, last, len(vals)))
        ys.append(np.asarray(vals, dtype=float))
    pts = np.asarray(singles, dtype=float)
    xs.append(pts[:, 0])
    ys.append(pts[:, 1])
    return pd.DataFrame({"wavenumber": np.concatenate(xs),
                         "value": np.concatenate(ys), "source": source})


# drawing order: channel file first, granule next, PCA on top
top_df = pd.concat([to_frame(chan_runs, chan_single, "chan"),
                    to_frame(gran_runs, gran_single, "gran"),
                    to_frame(pca_runs, pca_single, "pca")], ignore_index=True)
bot_df = pd.concat([to_frame(dchan_runs, dchan_single, "chan"),
                    to_frame(dgran_runs, dgran_single, "gran")], ignore_index=True)
palette = {"chan": RED, "gran": BLUE, "pca": BLACK}

sns.set_theme(style="white")
plt.rcParams["font.family"] = ["Liberation Sans", "DejaVu Sans"]

W, H = 1136, 927
fig = plt.figure(figsize=(W / 100, H / 100), dpi=100)
ax_top = fig.add_axes([123 / W, 1 - 443 / H, (W - 123) / W, 410 / H])
ax_bot = fig.add_axes([123 / W, 1 - 842 / H, (W - 123) / W, 350 / H])

for ax, df in ((ax_top, top_df), (ax_bot, bot_df)):
    sns.scatterplot(data=df, x="wavenumber", y="value", hue="source", palette=palette,
                    marker="D", s=25, linewidth=0, edgecolor="none", legend=False, ax=ax)

ax_bot.axhline(0, color="black", lw=1.2, zorder=5)

for ax in (ax_top, ax_bot):
    ax.set_xlim(600, 600 + (W - 123) / 0.4715)
    ax.set_xticks(xtick_values)
    ax.tick_params(axis="both", direction="in", length=8, width=1.1, color="#222222",
                   top=True, bottom=True, left=True, right=False,
                   labelsize=17, labelcolor="black", pad=5)
    for side in ("top", "bottom", "left"):
        ax.spines[side].set_visible(True)
        ax.spines[side].set_color("#222222")
        ax.spines[side].set_linewidth(1.3)
    ax.spines["right"].set_visible(False)
    ax.grid(False)

ax_top.set_ylim(0, 1.5)
ax_top.set_yticks(top_yticks)
ax_top.set_yticklabels(top_ylabels)
ax_top.set_xticklabels([])
ax_top.set_xlabel("")
ax_top.set_ylabel("NeDT @ 250 K (K)", fontsize=21, color="#444444")
ax_top.yaxis.set_label_coords(-0.077, 0.524)

ax_bot.set_ylim(-0.2, 0.2)
ax_bot.set_yticks(bot_yticks)
ax_bot.set_yticklabels(bot_ylabels)
ax_bot.set_xticklabels([str(v) for v in xtick_values])
ax_bot.set_ylabel("Difference", fontsize=21, color="#444444")
ax_bot.yaxis.set_label_coords(-0.077, 0.514)
ax_bot.set_xlabel("wavenumber", fontsize=21, color="#444444")
ax_bot.xaxis.set_label_coords(0.518, -0.155)

# key box with coloured lines of text
box = Rectangle((372 / W, 1 - 150 / H), (871 - 372) / W, 142 / H, transform=fig.transFigure,
                facecolor="white", edgecolor="#111111", lw=1.5, zorder=10)
fig.patches.append(box)
for text, colour, ypx in zip(legend_lines, ["#e8413c", "#3f48b0", "#333333"], [38, 77, 118]):
    fig.text(621 / W, 1 - ypx / H, text, color=colour, fontsize=24.5,
             ha="center", va="center", zorder=11)

fig.savefig("out.png", dpi=100)
